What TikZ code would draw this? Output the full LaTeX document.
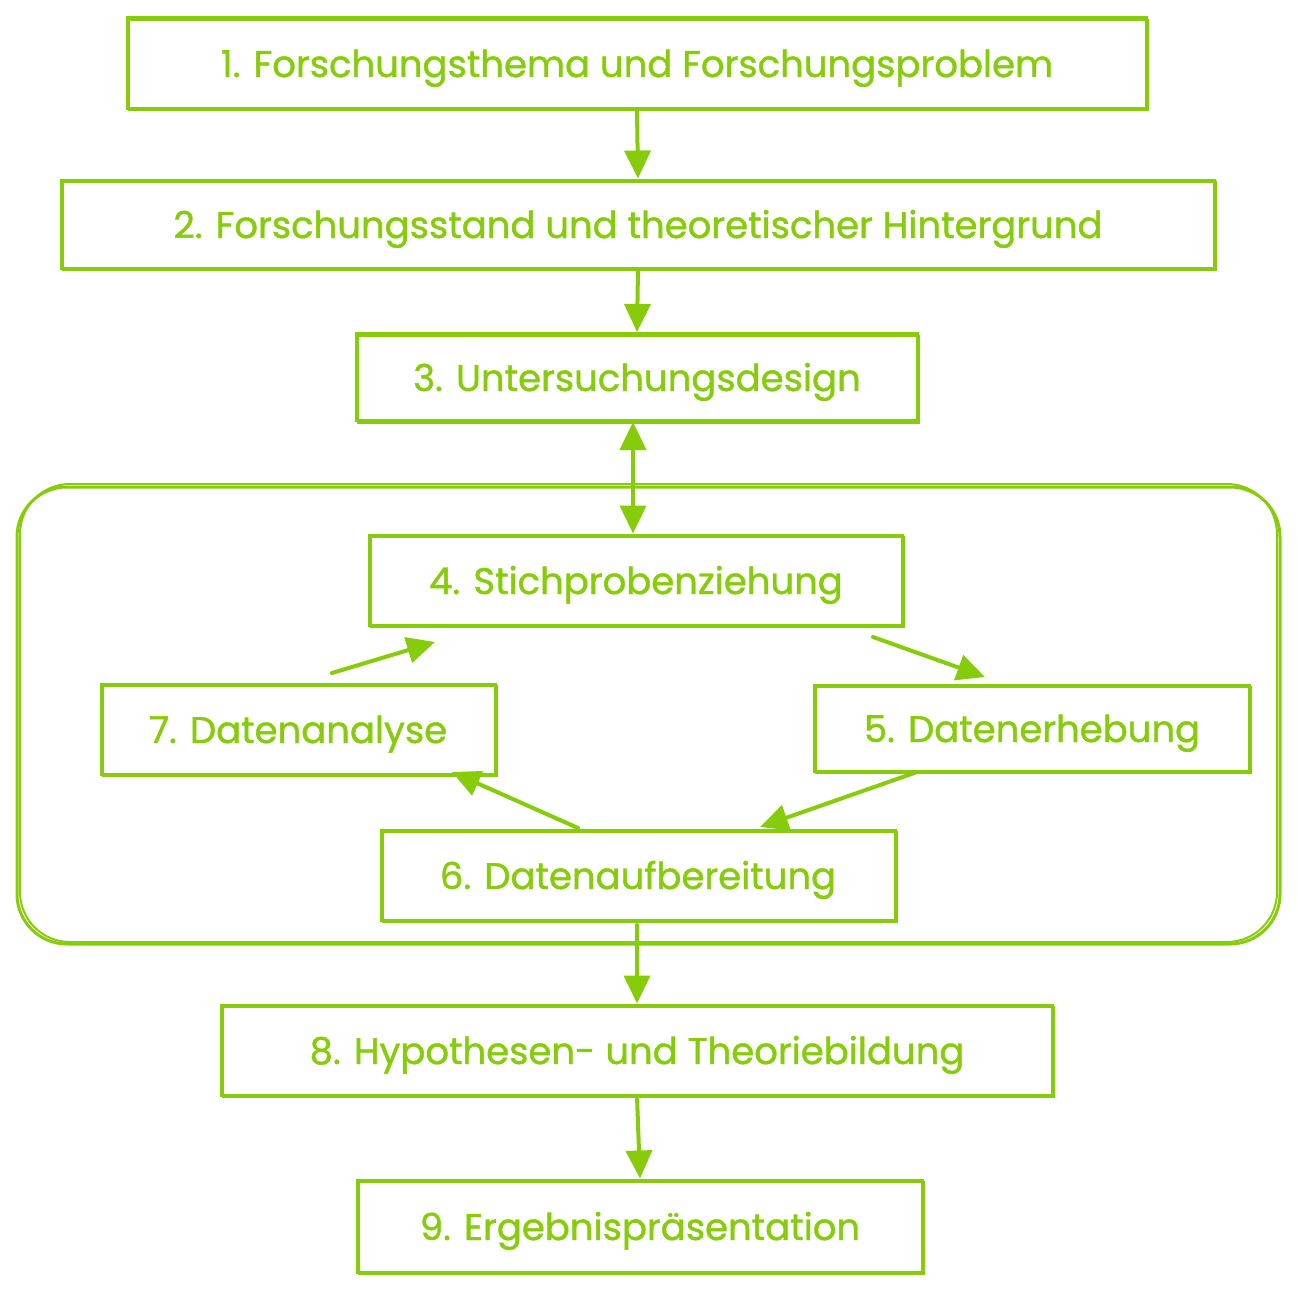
\documentclass[tikz,border=0pt]{standalone}
\usepackage{fontspec}
\setmainfont{Poppins}
\newfontfamily\hand{Poppins}[FakeBold=1.2]
\usetikzlibrary{arrows.meta}
\definecolor{lime}{RGB}{134,204,10}
\tikzset{
  every picture/.style={x=1pt,y=-1pt},
  box/.style={draw=lime, line width=3pt, text=lime, font=\hand\fontsize{37}{44}\selectfont,
    inner sep=0pt, anchor=center, text height=28pt, text depth=0pt,
    preaction={draw=lime, line width=2pt, transform canvas={shift={(1.5pt,-2pt)}}}},
  arr/.style={draw=lime, line width=4pt, line cap=round, -{Triangle[length=28pt,width=26pt]}},
  darr/.style={draw=lime, line width=4pt, {Triangle[length=28pt,width=26pt]}-{Triangle[length=28pt,width=26pt]}},
}
\begin{document}
\begin{tikzpicture}
\useasboundingbox (0,0) rectangle (1298,1290);
% group frame
\draw[lime, line width=3pt, rounded corners=50pt] (17,487) rectangle (1280,944);
\draw[lime, line width=2pt, rounded corners=50pt] (20,484) rectangle (1277,942);
% boxes
\node[box, minimum width=1019pt, minimum height=90pt] (n1) at (637,63) {1. Forschungsthema und Forschungsproblem};
\node[box, minimum width=1153pt, minimum height=88pt] (n2) at (638,224) {2. Forschungsstand und theoretischer Hintergrund};
\node[box, minimum width=561pt, minimum height=87pt] (n3) at (637,377) {3. Untersuchungsdesign};
\node[box, minimum width=533pt, minimum height=90pt] (n4) at (636,580) {4. Stichprobenziehung};
\node[box, minimum width=394pt, minimum height=90pt] (n7) at (298,729) {7. Datenanalyse};
\node[box, minimum width=435pt, minimum height=86pt] (n5) at (1032,728) {5. Datenerhebung};
\node[box, minimum width=514pt, minimum height=90pt] (n6) at (638,875) {6. Datenaufbereitung};
\node[box, minimum width=831pt, minimum height=90pt] (n8) at (637,1050) {8. Hypothesen- und Theoriebildung};
\node[box, minimum width=565pt, minimum height=92pt] (n9) at (640,1226) {9. Ergebnispräsentation};
% helper coordinates
\coordinate (a74s) at (332,673);
\coordinate (a74e) at (435,642);
\coordinate (a45s) at (873,637);
\coordinate (a45e) at (985,677);
\coordinate (a56s) at (917,772);
\coordinate (a56e) at (760,827);
\coordinate (a67s) at (578,828);
\coordinate (a67e) at (452,772);
\coordinate (g8s) at (637,925);
% connectors
\draw[arr] (n1.south) -- (n2.north);
\draw[arr] (n2.south) -- (n3.north);
\draw[darr] ([xshift=-4pt]n3.south) -- ([xshift=-3pt]n4.north);
\draw[arr] (a74s) -- (a74e);
\draw[arr] (a45s) -- (a45e);
\draw[arr] (a56s) -- (a56e);
\draw[arr] (a67s) -- (a67e);
\draw[arr] (g8s) -- (n8.north);
\draw[arr] (n8.south) -- (n9.north);
\end{tikzpicture}
\end{document}
